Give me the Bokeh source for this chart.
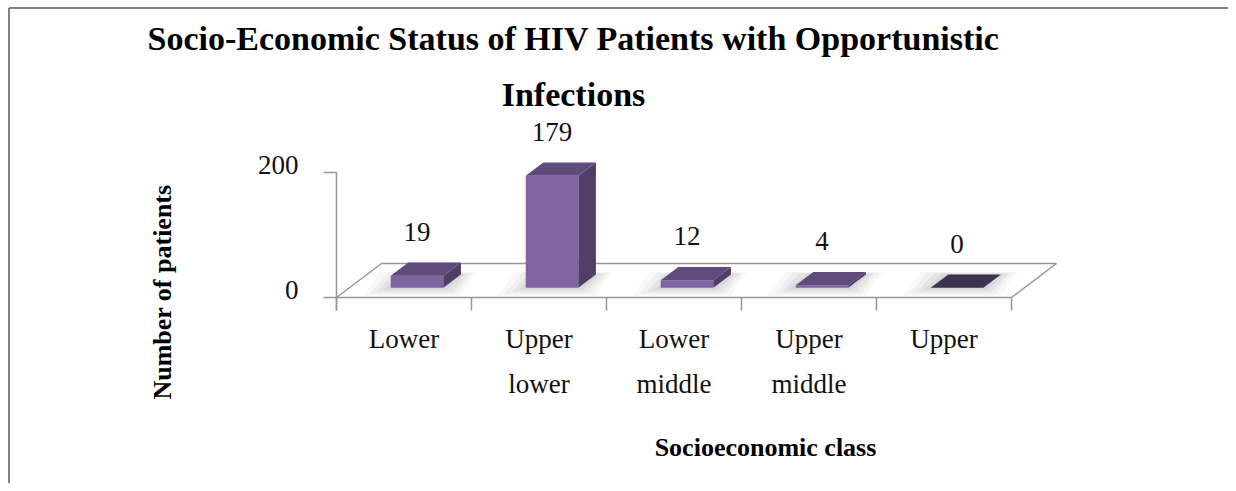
from bokeh.plotting import figure
from bokeh.models import Range1d, ColumnDataSource
from bokeh.embed import file_html
from bokeh.resources import INLINE
from bokeh.core.properties import value

# ---------------- data ----------------
categories = ["Lower", "Upper lower", "Lower middle", "Upper middle", "Upper"]
cat_line1 = ["Lower", "Upper", "Lower", "Upper", "Upper"]
cat_line2 = ["", "lower", "middle", "middle", ""]
patients = [19, 179, 12, 4, 0]
y_ticks = [0, 200]
y_tick_labels = ["0", "200"]
title_lines = ["Socio-Economic Status of HIV Patients with Opportunistic", "Infections"]
x_title = "Socioeconomic class"
y_title = "Number of patients"

# ---------------- geometry (scale definition) ----------------
W, H = 1228, 483
PX_PER_CAT = 135.0      # pixels per category slot
PX_PER_VAL = 0.625      # pixels per patient
ORIGIN_X = 336.0        # frame px of value-axis
ORIGIN_Y = 297.0        # frame px (from top) of zero line

x_range = Range1d(-ORIGIN_X / PX_PER_CAT, (W - ORIGIN_X) / PX_PER_CAT)
y_range = Range1d(-(H - ORIGIN_Y) / PX_PER_VAL, ORIGIN_Y / PX_PER_VAL)

def px_x(p):  # pixel length -> x data length
    return p / PX_PER_CAT

def px_y(p):  # pixel length -> y data length
    return p / PX_PER_VAL

def at_x(px):  # frame pixel -> x data
    return (px - ORIGIN_X) / PX_PER_CAT

def at_y(py):  # frame pixel (from top) -> y data
    return (ORIGIN_Y - py) / PX_PER_VAL

BASE_K = 0.41   # baseline correction (fraction of font size)

DX = px_x(45)   # floor depth offset
DY = px_y(34)
F0, F1 = 0.29, 0.68   # bar depth extent (fraction of floor depth)
BW = 0.39             # bar width (category units)
n = len(categories)

FONT = value("Liberation Serif")

p = figure(width=W, height=H, x_range=x_range, y_range=y_range,
           x_axis_type=None, y_axis_type=None, toolbar_location=None,
           output_backend="svg", min_border=0)
p.outline_line_color = None
p.grid.visible = False
p.background_fill_color = "white"
p.border_fill_color = "white"

AX = "#969696"

# outer chart border (left and top edges)
p.line([at_x(8.5), at_x(8.5)], [y_range.start, at_y(7.5)], line_color="#808080", line_width=2)
p.line([at_x(8.5), x_range.end], [at_y(7.5), at_y(7.5)], line_color="#808080", line_width=2)

# floor
p.line([0, DX, n + DX, n], [0, DY, DY, 0], line_color=AX, line_width=1.5)
p.line([0, n], [0, 0], line_color=AX, line_width=1.5)

# value axis
ax_bottom = -px_y(13)
p.line([0, 0], [ax_bottom, y_ticks[-1]], line_color=AX, line_width=1.5)
p.segment(x0=[-px_x(13)] * len(y_ticks), y0=y_ticks, x1=[0] * len(y_ticks), y1=y_ticks,
          line_color=AX, line_width=1.5)
# category ticks
p.segment(x0=list(range(n + 1)), y0=[0] * (n + 1), x1=list(range(n + 1)), y1=[ax_bottom] * (n + 1),
          line_color=AX, line_width=1.5)

# shadows and bars
ddx = (F1 - F0) * DX
ddy = (F1 - F0) * DY
for i, v in enumerate(patients):
    cx = i + 0.5
    xl = cx - BW / 2 + F0 * DX
    xr = xl + BW
    yb = F0 * DY
    yt = yb + v
    # soft shadow on floor
    for k, a in [(4, 0.05), (3, 0.07), (2, 0.09), (1, 0.11)]:
        ex = px_x(7 * k)
        ey = px_y(2.0 * k)
        p.patch([xl - ex, xr + ex * 0.6, xr + ddx + ex * 0.6, xl + ddx - ex],
                [yb - ey, yb - ey, yb + ddy + ey * 0.3, yb + ddy + ey * 0.3],
                fill_color="#7f7f7f", fill_alpha=a, line_color=None)
    if v > 0:
        p.patch([xl, xr, xr, xl], [yb, yb, yt, yt], fill_color="#8064A2", line_color=None)
        p.patch([xr, xr + ddx, xr + ddx, xr], [yb, yb + ddy, yt + ddy, yt],
                fill_color="#4F3E67", line_color=None)
        p.patch([xl, xr, xr + ddx, xl + ddx], [yt, yt, yt + ddy, yt + ddy],
                fill_color="#5F4B7C", line_color=None)
    else:
        p.patch([xl, xr, xr + ddx, xl + ddx], [yt, yt, yt + ddy, yt + ddy],
                fill_color="#3F3152", line_color=None)

F27 = BASE_K * 27
# data labels
lab = ColumnDataSource(dict(x=[i + 0.5 + F0 * DX for i in range(n)],
                            y=[v + F0 * DY + px_y(33 + F27) for v in patients],
                            t=[str(v) for v in patients]))
p.text(x="x", y="y", text="t", source=lab, text_font=FONT, text_font_size="27px",
       text_align="center", text_baseline="alphabetic", text_color="#111111")

# value tick labels
p.text(x=[-px_x(38)] * len(y_ticks), y=[t - px_y(4 - F27) for t in y_ticks], text=y_tick_labels,
       text_font=FONT, text_font_size="27px", text_align="right", text_baseline="alphabetic",
       text_color="#111111")

# category labels
cx_list = [i + 0.5 for i in range(n)]
p.text(x=cx_list, y=[at_y(350 - F27)] * n, text=cat_line1, text_font=FONT, text_font_size="27px",
       text_align="center", text_baseline="alphabetic", text_color="#111111")
p.text(x=cx_list, y=[at_y(395 - F27)] * n, text=cat_line2, text_font=FONT, text_font_size="27px",
       text_align="center", text_baseline="alphabetic", text_color="#111111")

# titles
F34 = BASE_K * 34
F26 = BASE_K * 26
tx = at_x(573)
p.text(x=[tx, tx], y=[at_y(52 - F34), at_y(108 - F34)], text=title_lines, text_font=FONT,
       text_font_size="34px", text_font_style="bold", text_align="center",
       text_baseline="alphabetic", text_color="black")
p.text(x=[at_x(765)], y=[at_y(458 - F26)], text=[x_title], text_font=FONT,
       text_font_size="26px", text_font_style="bold", text_align="center",
       text_baseline="alphabetic", text_color="black")
p.text(x=[at_x(173 - F26)], y=[at_y(291.5)], text=[y_title], text_font=FONT,
       text_font_size="26px", text_font_style="bold", text_align="center",
       text_baseline="alphabetic", angle=1.5707963, text_color="black")

open("out.html", "w").write(file_html(p, INLINE))
